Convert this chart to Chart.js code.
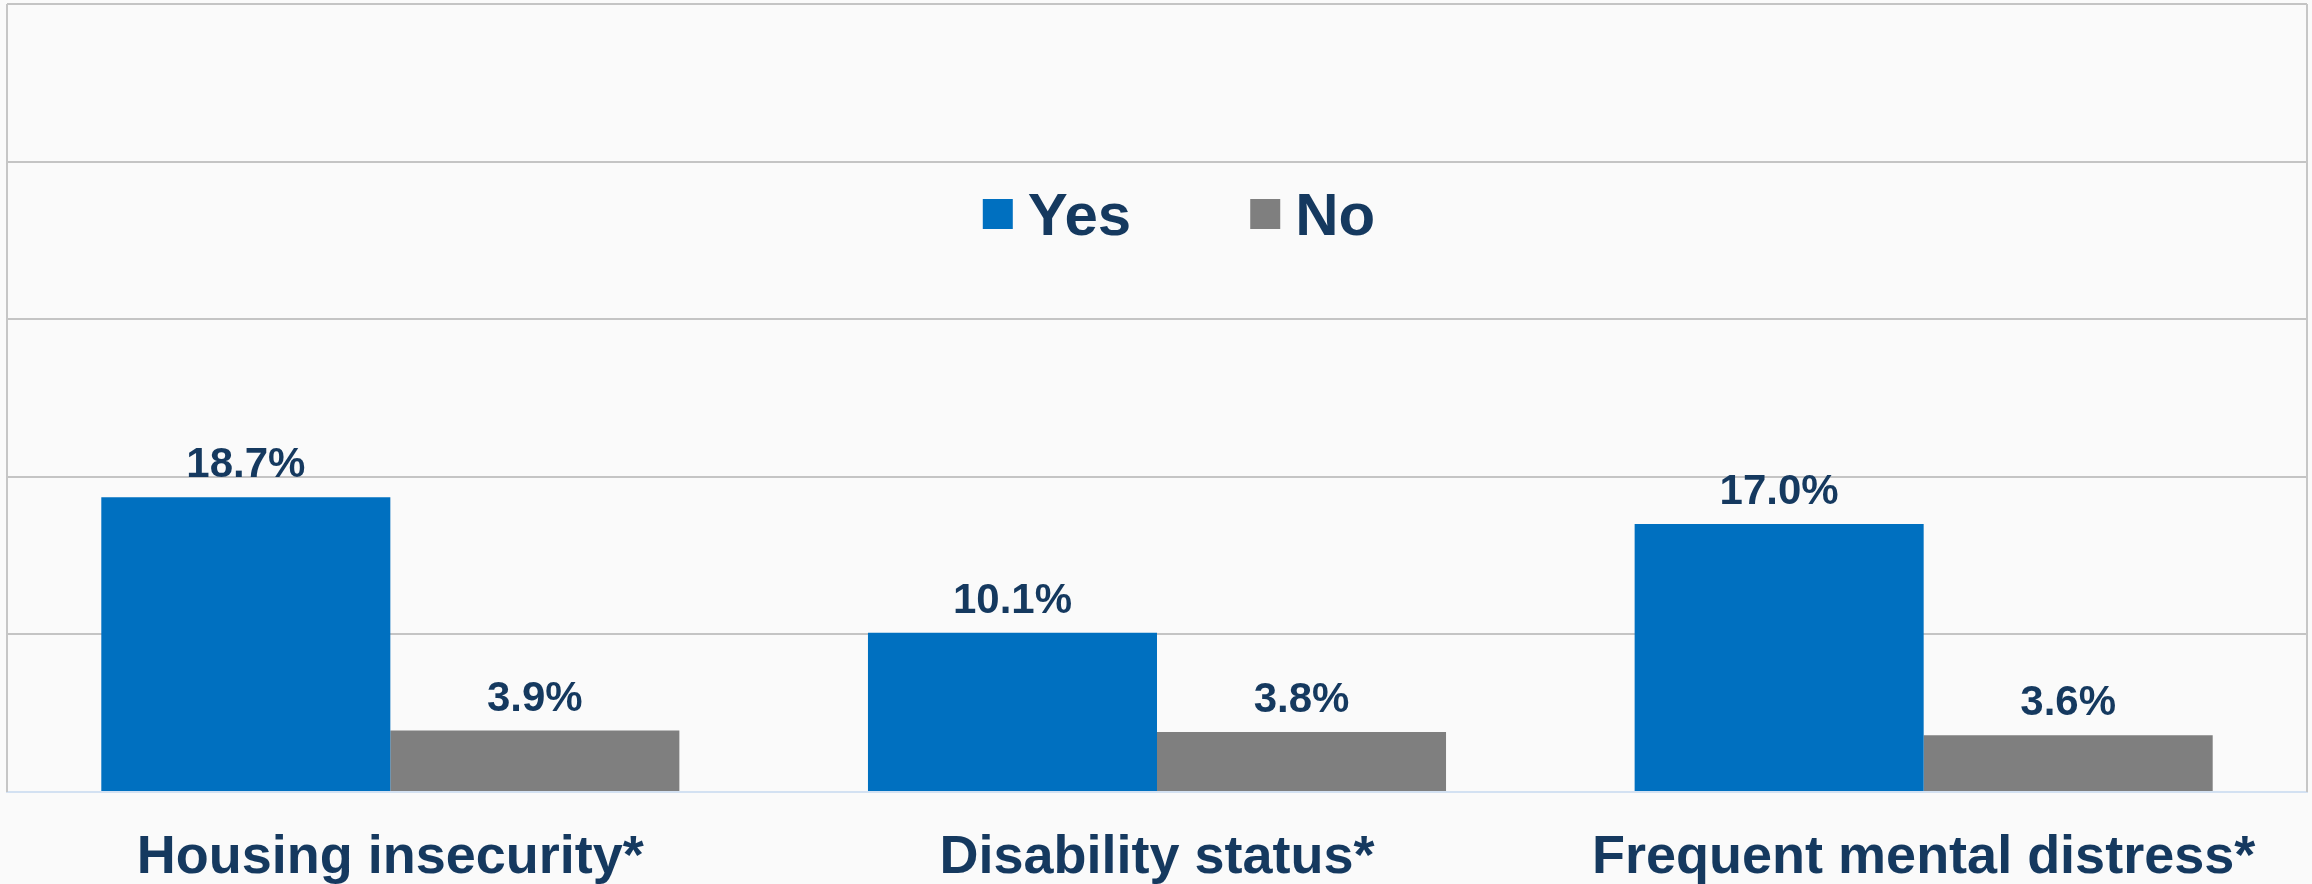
<!DOCTYPE html>
<html>
<head>
<meta charset="utf-8">
<script src="https://cdn.jsdelivr.net/npm/chart.js@4/dist/chart.umd.min.js"></script>
<style>
  html, body { margin: 0; padding: 0; background: #fafafa; }
  #wrap { width: 2312px; height: 884px; position: relative; }
</style>
</head>
<body>
<div id="wrap"><canvas id="chart"></canvas></div>
<script>
const categories = ["Housing insecurity*", "Disability status*", "Frequent mental distress*"]
const seriesNames = ["Yes", "No"]
const yesValues = [18.7, 10.1, 17.0]
const noValues = [3.9, 3.8, 3.6]
const yTicks = { min: 0, max: 50, step: 10 }

const navy = "#15395f"
const fontFace = "'Liberation Sans', Arial, sans-serif"

// side borders of the plot area
const framePlugin = {
  id: "frame",
  beforeDatasetsDraw(chart) {
    const { ctx, chartArea: a } = chart
    ctx.save()
    ctx.strokeStyle = "#c6c6c6"
    ctx.lineWidth = 2
    ctx.beginPath()
    ctx.moveTo(a.left, a.top)
    ctx.lineTo(a.left, a.bottom)
    ctx.moveTo(a.right, a.top)
    ctx.lineTo(a.right, a.bottom)
    ctx.stroke()
    ctx.restore()
  }
}

// value labels above bars
const valueLabels = {
  id: "valueLabels",
  afterDatasetsDraw(chart) {
    const ctx = chart.ctx
    ctx.save()
    ctx.fillStyle = navy
    ctx.font = "bold 42px " + fontFace
    ctx.textAlign = "center"
    ctx.textBaseline = "alphabetic"
    chart.data.datasets.forEach((ds, i) => {
      chart.getDatasetMeta(i).data.forEach((bar, j) => {
        ctx.fillText(ds.data[j].toFixed(1) + "%", bar.x, bar.y - 20)
      })
    })
    ctx.restore()
  }
}

// legend drawn inside the plot area
const innerLegend = {
  id: "innerLegend",
  afterDraw(chart) {
    const { ctx, chartArea: a } = chart
    ctx.save()
    ctx.font = "bold 60px " + fontFace
    ctx.textBaseline = "middle"
    const box = 30, gapText = 15, gapItem = 119
    const items = chart.data.datasets.map(ds => ({ label: ds.label, color: ds.backgroundColor, w: ctx.measureText(ds.label).width }))
    let total = 0
    items.forEach((it, i) => { total += box + gapText + it.w + (i < items.length - 1 ? gapItem : 0) })
    let x = (a.left + a.right) / 2 + 22 - total / 2
    const cy = 214
    items.forEach(it => {
      ctx.fillStyle = it.color
      ctx.fillRect(x, cy - box / 2, box, box)
      ctx.fillStyle = navy
      ctx.fillText(it.label, x + box + gapText, cy + 4)
      x += box + gapText + it.w + gapItem
    })
    ctx.restore()
  }
}

new Chart(document.getElementById("chart"), {
  type: "bar",
  data: {
    labels: categories,
    datasets: [
      { label: seriesNames[0], data: yesValues, backgroundColor: "#0070c0" },
      { label: seriesNames[1], data: noValues, backgroundColor: "#7f7f7f" }
    ]
  },
  options: {
    responsive: true,
    maintainAspectRatio: false,
    animation: false,
    layout: { padding: { left: 7, right: 5, top: 4, bottom: 0 } },
    datasets: { bar: { categoryPercentage: 0.754, barPercentage: 1.0 } },
    plugins: {
      legend: { display: false },
      tooltip: { enabled: false }
    },
    scales: {
      x: {
        afterFit: scale => { scale.height = 92 },
        grid: { display: false, drawTicks: false },
        border: { display: true, color: "#d3e1f2", width: 2 },
        ticks: {
          padding: 39,
          color: navy,
          font: { family: fontFace, size: 54, weight: "bold", lineHeight: 1.0 }
        }
      },
      y: {
        min: yTicks.min,
        max: yTicks.max,
        ticks: { display: false, stepSize: yTicks.step },
        grid: {
          drawTicks: false,
          lineWidth: 2,
          color: c => (c.tick && c.tick.value === 0 ? "rgba(0,0,0,0)" : "#c4c4c4")
        },
        border: { display: false }
      }
    }
  },
  plugins: [framePlugin, valueLabels, innerLegend]
})
</script>
</body>
</html>
